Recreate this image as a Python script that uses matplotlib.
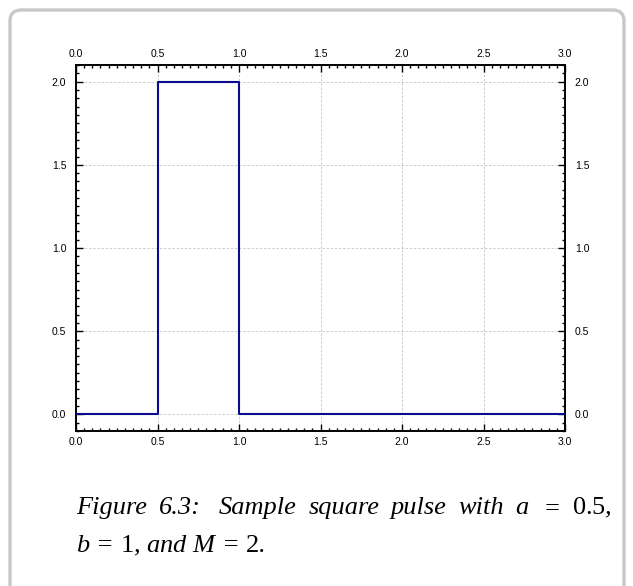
import matplotlib
matplotlib.use("Agg")
import matplotlib.pyplot as plt
from matplotlib.patches import FancyBboxPatch
from matplotlib.ticker import MultipleLocator

# square pulse: a = 0.5, b = 1, M = 2
pulse_x = [0.0, 0.5, 0.5, 1.0, 1.0, 3.0]
pulse_y = [0.0, 0.0, 2.0, 2.0, 0.0, 0.0]

x_ticks = [0.0, 0.5, 1.0, 1.5, 2.0, 2.5, 3.0]
y_ticks = [0.0, 0.5, 1.0, 1.5, 2.0]

caption_words = ["Figure", "6.3:", "Sample", "square", "pulse", "with",
                 "$a$", "$=$", "$0.5$,"]
caption_gaps = [1, 1.6, 1, 1, 1, 1, 1, 1]
caption_line2 = r"$b$ = $1$, and $M$ = $2$."

plt.rcParams['mathtext.fontset'] = 'custom'
plt.rcParams['mathtext.rm'] = 'Liberation Serif'
plt.rcParams['mathtext.it'] = 'Liberation Serif:italic'

W, H = 633, 586
fig = plt.figure(figsize=(W / 100, H / 100), dpi=100)

# card outline
card = FancyBboxPatch((10 / W, -0.05), (624 - 10) / W, 1.05 - 10 / H,
                      boxstyle="round,pad=0,rounding_size=0.018",
                      transform=fig.transFigure, facecolor="none",
                      edgecolor="#c8c8c8", linewidth=2.4, zorder=-1)
fig.patches.append(card)

ax = fig.add_axes([76 / W, 1 - 431 / H, (565 - 76) / W, (431 - 65) / H])
ax.patch.set_alpha(0)
ax.plot(pulse_x, pulse_y, color="#0a0a8c", linewidth=1.5, zorder=3)

ax.set_xlim(0, 3)
ax.set_ylim(-0.1, 2.1)
ax.set_xticks(x_ticks)
ax.set_yticks(y_ticks)
ax.xaxis.set_minor_locator(MultipleLocator(0.05))
ax.yaxis.set_minor_locator(MultipleLocator(0.05))

ax.grid(True, which="major", linestyle=(0, (3, 2)), color="#c4c4c4", linewidth=0.6)
ax.set_axisbelow(True)

ax.tick_params(which="both", direction="in", top=True, right=True,
               labeltop=True, labelright=True, width=1.0, color="black")
ax.tick_params(which="major", length=5, labelsize=7.5)
ax.tick_params(which="minor", length=2.5)
ax.tick_params(axis="y", which="major", pad=7)
ax.tick_params(axis="x", which="major", pad=4.5)
for lab in ax.get_xticklabels() + ax.get_yticklabels():
    lab.set_fontfamily("Liberation Sans")
for sp in ax.spines.values():
    sp.set_linewidth(1.4)

# caption, first line justified word by word
cap_font = dict(family="Liberation Serif", style="italic", fontsize=19)
x0, x1 = 76, 612
base1, base2 = H - 514, H - 552
renderer = fig.canvas.get_renderer()
texts = [fig.text(0, base1 / H, w, ha="left", va="baseline", **cap_font)
         for w in caption_words]
widths = [t.get_window_extent(renderer).width for t in texts]
unit = (x1 - x0 - sum(widths)) / sum(caption_gaps)
x = x0
for i, t in enumerate(texts):
    t.set_x(x / W)
    x += widths[i]
    if i < len(caption_gaps):
        x += unit * caption_gaps[i]

fig.text(x0 / W, base2 / H, caption_line2, ha="left", va="baseline", **cap_font)

fig.savefig("out.png", dpi=100)
